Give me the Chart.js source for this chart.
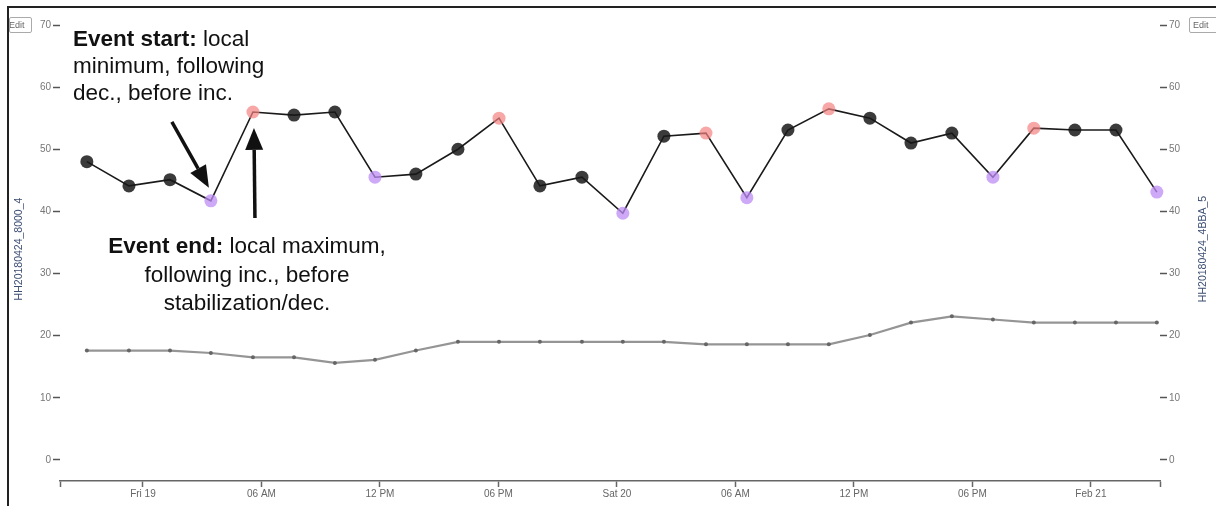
<!DOCTYPE html>
<html>
<head>
<meta charset="utf-8">
<script src="https://cdn.jsdelivr.net/npm/chart.js@4.4.1/dist/chart.umd.min.js"></script>
<style>
  html, body { margin: 0; padding: 0; background: #fff; }
  #wrap { position: relative; width: 1216px; height: 506px; overflow: hidden; }
  #frame { position: absolute; left: 7px; top: 6px; right: -4px; bottom: -4px; border-left: 2px solid #222; border-top: 2px solid #222; pointer-events: none; }
  .edit { position: absolute; top: 17px; height: 14px; border: 1px solid #aaa; border-radius: 2px; font: 9px "Liberation Sans", Arial, sans-serif; color: #666; line-height: 14px; background: #fff; overflow: hidden; white-space: nowrap; }
</style>
</head>
<body>
<div id="wrap">
  <canvas id="canvas-sensores" width="1216" height="506"></canvas>
  <div id="frame"></div>
  <div class="edit" style="left:9px; width:21px; text-indent:-1px;">Edit</div>
  <div class="edit" style="left:1189px; width:30px; padding-left:3px;">Edit</div>
</div>
<script>
// hours from Fri 19 00:00
const hours = [-2.84, -0.71, 1.37, 3.44, 5.57, 7.65, 9.72, 11.75, 13.82, 15.95, 18.03, 20.10, 22.23, 24.30,
  26.38, 28.51, 30.58, 32.66, 34.73, 36.81, 38.89, 40.96, 43.04, 45.11, 47.19, 49.27, 51.34];
const sensor8000 = [48.0, 44.1, 45.1, 41.7, 56.0, 55.5, 56.0, 45.5, 46.0, 50.0, 55.0, 44.1, 45.5, 39.7,
  52.1, 52.6, 42.2, 53.1, 56.5, 55.0, 51.0, 52.6, 45.5, 53.4, 53.1, 53.1, 43.1];
const sensor4BBA = [17.6, 17.6, 17.6, 17.2, 16.5, 16.5, 15.6, 16.1, 17.6, 19.0, 19.0, 19.0, 19.0, 19.0,
  19.0, 18.6, 18.6, 18.6, 18.6, 20.1, 22.1, 23.1, 22.6, 22.1, 22.1, 22.1, 22.1];
const eventStarts = [3, 7, 13, 16, 22, 26];
const eventEnds = [4, 10, 15, 18, 23];
const tickHours = [0, 6, 12, 18, 24, 30, 36, 42, 48];
const tickLabels = ["Fri 19", "06 AM", "12 PM", "06 PM", "Sat 20", "06 AM", "12 PM", "06 PM", "Feb 21"];
const yTicks = [0, 10, 20, 30, 40, 50, 60, 70];

const fonte = "'Liberation Sans', Arial, sans-serif";

const corPonto = sensor8000.map((v, i) =>
  eventStarts.includes(i) ? "rgba(190, 140, 245, 0.75)" :
  eventEnds.includes(i) ? "rgba(245, 130, 130, 0.7)" : "rgba(25, 25, 25, 0.85)");

function seta(ctx, x0, y0, x1, y1) {
  const ang = Math.atan2(y1 - y0, x1 - x0);
  const cab = 22, larg = 9;
  const bx = x1 - cab * Math.cos(ang), by = y1 - cab * Math.sin(ang);
  ctx.lineWidth = 3.5;
  ctx.strokeStyle = "#111";
  ctx.beginPath(); ctx.moveTo(x0, y0); ctx.lineTo(bx, by); ctx.stroke();
  ctx.beginPath(); ctx.moveTo(x1, y1);
  ctx.lineTo(bx + larg * Math.sin(ang), by - larg * Math.cos(ang));
  ctx.lineTo(bx - larg * Math.sin(ang), by + larg * Math.cos(ang));
  ctx.closePath(); ctx.fill();
}

function linhaMista(ctx, negrito, normal, x, y, centro) {
  ctx.font = "bold 22.5px " + fonte;
  const w1 = ctx.measureText(negrito).width;
  ctx.font = "22.5px " + fonte;
  const w2 = ctx.measureText(normal).width;
  const x0 = centro ? x - (w1 + w2) / 2 : x;
  ctx.textAlign = "left";
  ctx.font = "bold 22.5px " + fonte;
  ctx.fillText(negrito, x0, y);
  ctx.font = "22.5px " + fonte;
  ctx.fillText(normal, x0 + w1, y);
}

function tituloVertical(ctx, texto, x, y) {
  ctx.save();
  ctx.translate(x, y);
  ctx.rotate(-Math.PI / 2);
  ctx.textAlign = "center";
  ctx.textBaseline = "middle";
  ctx.font = "10.5px " + fonte;
  ctx.fillStyle = "#3d4f73";
  ctx.fillText(texto, 0, 0);
  ctx.restore();
}

const anotacoes = {
  id: "anotacoes",
  afterDatasetsDraw(chart) {
    const ctx = chart.ctx;
    const sx = chart.scales.x, sy = chart.scales.y;
    const area = chart.chartArea;
    ctx.save();
    ctx.fillStyle = "#111";
    ctx.textBaseline = "alphabetic";
    linhaMista(ctx, "Event start:", " local", 73, 46, false);
    linhaMista(ctx, "", "minimum, following", 73, 73, false);
    linhaMista(ctx, "", "dec., before inc.", 73, 100, false);
    linhaMista(ctx, "Event end:", " local maximum,", 247, 253, true);
    linhaMista(ctx, "", "following inc., before", 247, 282, true);
    linhaMista(ctx, "", "stabilization/dec.", 247, 310, true);

    const ini = eventStarts[0], fim = eventEnds[0];
    const px1 = sx.getPixelForValue(hours[ini]), py1 = sy.getPixelForValue(sensor8000[ini]);
    seta(ctx, px1 - 39, py1 - 79, px1 - 2, py1 - 13);
    const px2 = sx.getPixelForValue(hours[fim]), py2 = sy.getPixelForValue(sensor8000[fim]);
    seta(ctx, px2 + 2, py2 + 106, px2 + 1, py2 + 16);

    const meio = (area.top + area.bottom) / 2 - 4;
    tituloVertical(ctx, "HH20180424_8000_4", 19, meio);
    tituloVertical(ctx, "HH20180424_4BBA_5", 1203, meio);
    ctx.restore();
  }
};

const eixoY = (posicao, largura) => ({
  type: "linear",
  position: posicao,
  min: -3.4,
  max: 70,
  afterBuildTicks: (s) => { s.ticks = yTicks.map((v) => ({ value: v })); },
  afterFit: (s) => { s.width = largura; },
  grid: { display: true, drawOnChartArea: false, tickLength: 7, color: "#555", tickWidth: 1.5 },
  border: { display: false },
  ticks: { padding: 2, color: "#777", font: { size: 10, family: fonte } },
});

new Chart(document.getElementById("canvas-sensores"), {
  type: "line",
  plugins: [anotacoes],
  data: {
    datasets: [
      {
        label: "HH20180424_8000_4",
        data: hours.map((h, i) => ({ x: h, y: sensor8000[i] })),
        yAxisID: "y",
        borderColor: "#1a1a1a",
        borderWidth: 1.6,
        pointRadius: 6.5,
        pointBorderWidth: 0,
        pointBackgroundColor: corPonto,
        tension: 0,
        clip: false,
      },
      {
        label: "HH20180424_4BBA_5",
        data: hours.map((h, i) => ({ x: h, y: sensor4BBA[i] })),
        yAxisID: "y2",
        borderColor: "#959595",
        borderWidth: 2.2,
        pointRadius: 2,
        pointBorderWidth: 0,
        pointBackgroundColor: "#666",
        tension: 0,
        clip: false,
      },
    ],
  },
  options: {
    responsive: false,
    animation: false,
    devicePixelRatio: 1,
    layout: { padding: { left: 8, top: 25, right: 0, bottom: 0 } },
    plugins: {
      legend: { display: false },
      tooltip: { enabled: false },
    },
    scales: {
      x: {
        type: "linear",
        min: -4.2,
        max: 51.5,
        afterBuildTicks: (s) => { s.ticks = [s.min, ...tickHours, s.max].map((v) => ({ value: v })); },
        afterFit: (s) => { s.height = 25; },
        grid: { display: true, drawOnChartArea: false, tickLength: 6, color: "#666", tickWidth: 1.5 },
        border: { display: true, color: "#666", width: 1.5 },
        ticks: {
          autoSkip: false,
          maxRotation: 0,
          padding: 1,
          color: "#666",
          font: { size: 10, family: fonte },
          callback: (v) => {
            const i = tickHours.indexOf(v);
            return i >= 0 ? tickLabels[i] : "";
          },
        },
      },
      y: eixoY("left", 52),
      y2: eixoY("right", 56),
    },
  },
});
</script>
</body>
</html>
